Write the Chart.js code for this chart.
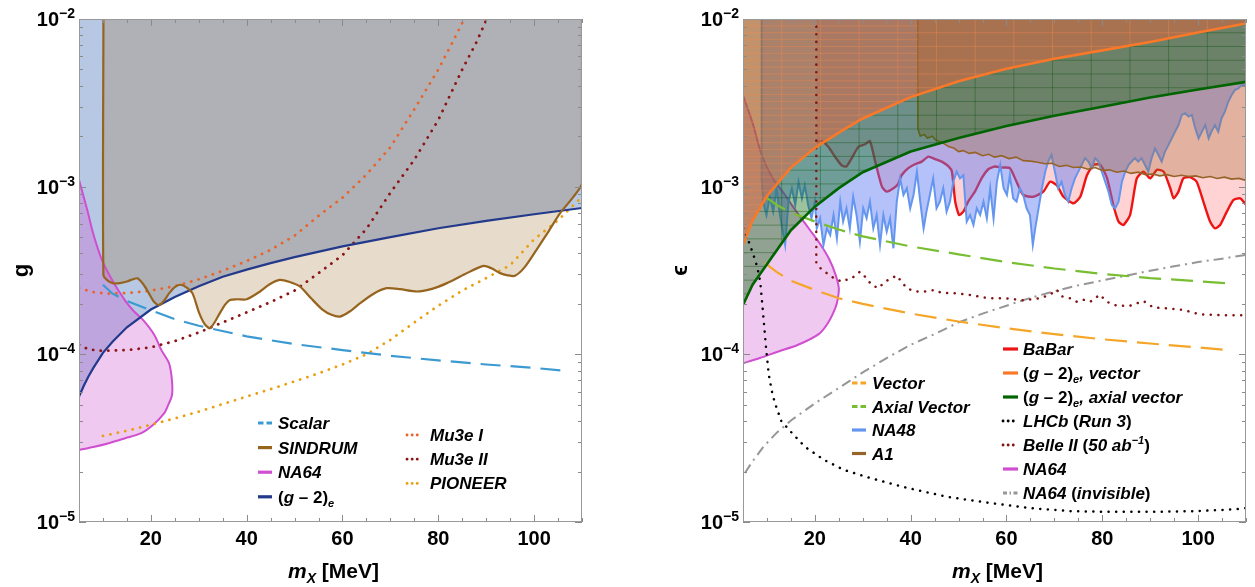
<!DOCTYPE html>
<html><head><meta charset="utf-8">
<script src="https://cdn.jsdelivr.net/npm/chart.js@4.4.1/dist/chart.umd.min.js"></script>
<style>
html,body{margin:0;padding:0;background:#fff;width:1255px;height:587px;overflow:hidden}
canvas{position:absolute;top:0}
#c1{left:0}
#c2{left:620px}
</style></head><body>
<canvas id="c1" width="620" height="587"></canvas>
<canvas id="c2" width="635" height="587"></canvas>
<script>
// ================= shared axis ticks =================
const xTickLabels = [20, 40, 60, 80, 100];
const yTickExps = [-5, -4, -3, -2];

// ================= LEFT PANEL : g vs m_X =================
const g2eMass = [5,6,7,8,10,12,15,20,25,30,35,40,45,50,60,70,80,90,100,110];
const g2eCoupling = [5.6e-5,6.5e-5,7.4e-5,8.3e-5,1.02e-4,1.19e-4,1.45e-4,1.85e-4,2.2e-4,2.55e-4,2.9e-4,3.2e-4,3.5e-4,3.8e-4,4.4e-4,5.0e-4,5.65e-4,6.25e-4,6.85e-4,7.46e-4];

const scalarMass = [10,12,15,20,25,30,40,50,60,70,80,90,100,106];
const scalarCoupling = [2.6e-4,2.3e-4,2.08e-4,1.83e-4,1.62e-4,1.48e-4,1.28e-4,1.15e-4,1.06e-4,9.8e-5,9.2e-5,8.7e-5,8.3e-5,8.0e-5];

const mu3eIMass = [5,8,11,15,20,25,30,35,40,45,50,55,60,65,70,75,80,83,85.1,85.4];
const mu3eICoupling = [2.48e-4,2.35e-4,2.3e-4,2.32e-4,2.4e-4,2.55e-4,2.8e-4,3.15e-4,3.6e-4,4.2e-4,5.1e-4,6.7e-4,8.6e-4,1.18e-3,1.72e-3,2.9e-3,5.0e-3,7.3e-3,9.6e-3,1.0e-2];

const mu3eIIMass = [5,7,10,15,20,25,30,35,40,45,50,55,60,65,70,75,80,85,88,90.1];
const mu3eIICoupling = [1.14e-4,1.07e-4,1.05e-4,1.06e-4,1.1e-4,1.2e-4,1.35e-4,1.55e-4,1.78e-4,2.05e-4,2.4e-4,3.05e-4,3.9e-4,5.6e-4,9.2e-4,1.45e-3,2.5e-3,5.0e-3,7.3e-3,1.0e-2];

const pioneerMass = [10,15,20,25,30,35,40,45,50,55,60,65,70,75,80,85,90,95,100,105,110];
const pioneerCoupling = [3.26e-5,3.5e-5,3.8e-5,4.15e-5,4.55e-5,5.05e-5,5.6e-5,6.2e-5,6.9e-5,7.7e-5,8.7e-5,1.0e-4,1.22e-4,1.55e-4,1.95e-4,2.4e-4,2.85e-4,3.4e-4,4.85e-4,6.3e-4,8.7e-4];

const sindrumCurve = [[10.1,1e-2],[10.1,2.97e-4],[11,2.75e-4],[12.2,2.65e-4],[13.5,2.66e-4],[15,2.72e-4],[16.2,2.8e-4],[17.2,2.84e-4],[18.5,2.6e-4],[19.6,2.31e-4],[20.7,2.05e-4],[21.7,1.97e-4],[22.7,2.08e-4],[23.8,2.31e-4],[25,2.52e-4],[26.2,2.6e-4],[27.5,2.5e-4],[28.7,2.31e-4],[30.1,1.76e-4],[31.2,1.52e-4],[32.3,1.43e-4],[33.3,1.55e-4],[34.4,1.76e-4],[35.5,1.98e-4],[36.5,2.11e-4],[38,2.13e-4],[40,2.13e-4],[42.8,2.37e-4],[44.8,2.62e-4],[46.9,2.78e-4],[49,2.7e-4],[51.1,2.54e-4],[53.5,2.15e-4],[55.9,1.84e-4],[57.7,1.72e-4],[59.5,1.68e-4],[61.5,1.8e-4],[63.7,2.02e-4],[66.5,2.3e-4],[69.2,2.48e-4],[72,2.45e-4],[75.5,2.37e-4],[78.5,2.45e-4],[81.7,2.65e-4],[85.5,3.0e-4],[89.4,3.37e-4],[91.2,3.25e-4],[92.9,3.05e-4],[94.5,2.96e-4],[96,2.94e-4],[98,3.3e-4],[100.5,4.2e-4],[103,5.4e-4],[105.4,6.93e-4],[108.2,8.7e-4],[110,1.05e-3],[110,1e-2]];

const na64LeftContour = [[5,1.1e-3],[6.7,7.3e-4],[8,5.2e-4],[9.8,3.65e-4],[12,2.75e-4],[14.6,2.1e-4],[16.5,1.8e-4],[18.4,1.6e-4],[20.7,1.31e-4],[22.2,1.06e-4],[23.8,8.85e-5],[24.4,7.0e-5],[24.4,5.7e-5],[23.5,4.9e-5],[22.8,4.46e-5],[20.5,3.8e-5],[18,3.39e-5],[14.5,3.15e-5],[11.2,2.95e-5],[8,2.8e-5],[5,2.69e-5]];

// ================= RIGHT PANEL : epsilon vs m_X =================
const gm2Mass = [5,7,10,15,20,25,30,40,50,60,70,80,90,100,110];
const gm2VectorEps = [4.5e-4,6.3e-4,8.8e-4,1.3e-3,1.7e-3,2.1e-3,2.55e-3,3.42e-3,4.25e-3,5.05e-3,5.8e-3,6.5e-3,7.3e-3,8.3e-3,9.4e-3];
const gm2AxialEps = [1.97e-4,2.6e-4,3.45e-4,5.5e-4,7.6e-4,9.8e-4,1.22e-3,1.62e-3,1.95e-3,2.3e-3,2.65e-3,3.0e-3,3.4e-3,3.8e-3,4.22e-3];

const vectorMass = [9.6,12,15,20,25,30,40,50,60,70,80,90,100,106.3];
const vectorEps = [3.5e-4,3.1e-4,2.75e-4,2.42e-4,2.16e-4,2.0e-4,1.75e-4,1.57e-4,1.43e-4,1.32e-4,1.23e-4,1.16e-4,1.1e-4,1.06e-4];
const axialMass = [9.9,12,15,20,25,30,40,50,60,70,80,90,100,106.3];
const axialEps = [8.6e-4,7.8e-4,7.0e-4,6.2e-4,5.55e-4,5.05e-4,4.4e-4,3.95e-4,3.55e-4,3.25e-4,3.02e-4,2.85e-4,2.73e-4,2.65e-4];

const na64InvMass = [5.4,7,9.3,12,15.2,20,25,30,35,40,45,50,55,60,65,70,75,80,85,90,95,100,105,110];
const na64InvEps = [1.96e-5,2.3e-5,2.82e-5,3.4e-5,4.07e-5,5.1e-5,6.3e-5,7.8e-5,9.5e-5,1.14e-4,1.32e-4,1.55e-4,1.75e-4,1.95e-4,2.17e-4,2.38e-4,2.58e-4,2.76e-4,2.95e-4,3.15e-4,3.35e-4,3.55e-4,3.72e-4,3.92e-4];

const lhcbCurve = [[5,5.65e-4],[6.2,4.7e-4],[7.2,3.9e-4],[8.0,3.3e-4],[8.6,2.7e-4],[9.2,1.75e-4],[9.8,1.1e-4],[10.4,7.5e-5],[11.2,5.7e-5],[12,4.8e-5],[13,4.0e-5],[15.2,3.4e-5],[18,2.8e-5],[22,2.34e-5],[26,2.05e-5],[30.7,1.86e-5],[35,1.72e-5],[39.2,1.6e-5],[47.8,1.41e-5],[56.4,1.3e-5],[64.9,1.21e-5],[73.5,1.16e-5],[82,1.15e-5],[90.6,1.15e-5],[99.2,1.16e-5],[107.7,1.19e-5],[110,1.21e-5]];

const belleCurve = [[20.3,1e-2],[20.3,3.49e-4],[21.2,3.26e-4],[22.1,3.11e-4],[23.5,2.9e-4],[25.6,2.71e-4],[26.3,2.77e-4],[27.7,2.84e-4],[29.4,3.11e-4],[30.5,2.9e-4],[31.9,2.59e-4],[33.3,2.48e-4],[34.6,2.71e-4],[36,2.84e-4],[37.1,2.95e-4],[38.1,2.71e-4],[39.2,2.48e-4],[40.9,2.37e-4],[43,2.37e-4],[45.1,2.42e-4],[46.5,2.32e-4],[48.6,2.32e-4],[52,2.27e-4],[56.2,2.16e-4],[59.7,2.16e-4],[63.5,2.1e-4],[67,2.16e-4],[69.1,2.27e-4],[70.5,2.43e-4],[71.5,2.22e-4],[73.3,2.16e-4],[74.7,2.06e-4],[76,2.12e-4],[77.5,2.06e-4],[79.5,2.27e-4],[80.9,2.06e-4],[83,1.95e-4],[85.8,1.95e-4],[88.6,2.08e-4],[90.7,1.9e-4],[93.5,1.88e-4],[96.9,1.84e-4],[100.4,1.73e-4],[105.3,1.71e-4],[110,1.71e-4]];

const babarCurve = [[20.4,1.83e-3],[21.4,1.87e-3],[22.8,1.73e-3],[24.2,1.51e-3],[25.6,1.34e-3],[26.6,1.32e-3],[27.7,1.48e-3],[29.1,1.73e-3],[30.5,1.79e-3],[31.5,1.87e-3],[32.6,1.41e-3],[34.0,1.0e-3],[35.0,9.34e-4],[36.4,9.78e-4],[37.4,1.04e-3],[38.1,1.17e-3],[39.5,1.29e-3],[40.9,1.36e-3],[42.3,1.41e-3],[43.7,1.51e-3],[45.1,1.46e-3],[46.5,1.41e-3],[47.9,1.32e-3],[48.6,1.23e-3],[49.3,8.14e-4],[50.1,6.78e-4],[51.0,7.1e-4],[52.0,8.14e-4],[53.4,9.34e-4],[54.8,1.12e-3],[56.2,1.27e-3],[57.6,1.32e-3],[59.0,1.3e-3],[60.7,1.29e-3],[62.1,1.07e-3],[63.5,8.92e-4],[65.6,8.7e-4],[67.7,9.34e-4],[69.1,1.07e-3],[70.5,1.02e-3],[71.9,8.7e-4],[74.0,7.96e-4],[75.4,8.7e-4],[76.8,1.17e-3],[78.2,1.35e-3],[79.6,1.35e-3],[81.0,1.12e-3],[82.3,7.78e-4],[83.4,6.19e-4],[84.4,5.91e-4],[85.8,6.78e-4],[87.2,1.12e-3],[88.6,1.23e-3],[90.0,1.12e-3],[91.4,1.26e-3],[92.8,1.23e-3],[94.2,9.78e-4],[94.9,8.52e-4],[95.9,9.34e-4],[96.9,1.12e-3],[98.3,1.14e-3],[99.7,1.07e-3],[101.1,8.14e-4],[102.5,6.19e-4],[103.5,5.64e-4],[104.6,5.91e-4],[106.0,7.1e-4],[107.4,8.33e-4],[108.8,8.52e-4],[110,7.8e-4]];

const na48Curve = [[8.9,1e-2],[8.9,1.12e-3],[9.2,8.14e-4],[9.9,6.78e-4],[10.6,8.72e-4],[11.3,7.1e-4],[12.0,9.78e-4],[12.7,6.78e-4],[13.8,4.49e-4],[14.5,8.14e-4],[15.2,9.78e-4],[15.9,7.78e-4],[16.6,1.07e-3],[17.3,8.52e-4],[17.9,1.02e-3],[18.6,7.78e-4],[19.3,6.48e-4],[20.0,8.14e-4],[20.4,5.64e-4],[21.1,6.48e-4],[21.8,4.49e-4],[22.5,5.64e-4],[23.2,5.15e-4],[23.9,6.78e-4],[24.6,4.92e-4],[25.3,8.14e-4],[25.9,6.19e-4],[26.6,7.43e-4],[27.3,5.64e-4],[28.0,8.72e-4],[28.7,6.78e-4],[29.4,4.7e-4],[30.1,7.43e-4],[30.8,6.48e-4],[31.5,8.14e-4],[32.2,5.64e-4],[32.9,6.78e-4],[33.6,4.49e-4],[34.3,6.78e-4],[35.0,5.39e-4],[35.7,6.48e-4],[36.4,4.29e-4],[37.1,8.14e-4],[37.8,1.12e-3],[38.5,8.92e-4],[39.2,9.78e-4],[39.9,7.43e-4],[40.6,8.92e-4],[41.3,1.23e-3],[42.0,8.14e-4],[42.7,5.64e-4],[43.3,7.1e-4],[44.0,8.92e-4],[44.7,1.12e-3],[45.4,7.43e-4],[46.1,8.14e-4],[46.8,9.78e-4],[47.5,7.1e-4],[48.2,8.14e-4],[48.9,1.07e-3],[49.6,1.23e-3],[50.3,1.12e-3],[51.0,1.17e-3],[51.7,6.19e-4],[52.4,6.78e-4],[53.1,5.91e-4],[53.8,7.43e-4],[54.5,6.78e-4],[55.2,8.14e-4],[55.9,6.48e-4],[56.6,9.78e-4],[57.3,6.48e-4],[58.0,1.07e-3],[58.7,1.35e-3],[59.4,9.78e-4],[60.1,8.92e-4],[60.7,1.17e-3],[61.4,8.52e-4],[62.1,8.14e-4],[62.8,9.78e-4],[63.5,8.92e-4],[64.2,7.43e-4],[64.9,6.78e-4],[65.5,4.49e-4],[66.0,5.64e-4],[66.7,7.43e-4],[67.4,9.78e-4],[68.1,1.23e-3],[68.7,1.41e-3],[69.4,1.55e-3],[70.1,1.23e-3],[70.8,9.78e-4],[71.5,1.07e-3],[72.2,8.92e-4],[72.9,8.14e-4],[73.6,9.78e-4],[74.3,1.12e-3],[75.0,1.23e-3],[75.7,1.35e-3],[76.4,1.48e-3],[77.1,1.41e-3],[77.8,1.29e-3],[78.5,1.48e-3],[79.2,1.41e-3],[79.9,1.23e-3],[80.6,1.07e-3],[81.3,9.34e-4],[82.0,7.78e-4],[82.7,7.43e-4],[83.4,8.14e-4],[84.1,1.07e-3],[84.8,1.23e-3],[85.5,1.35e-3],[86.1,1.41e-3],[86.8,1.48e-3],[87.5,1.41e-3],[88.2,1.48e-3],[88.9,1.35e-3],[89.6,1.23e-3],[90.3,1.48e-3],[91.0,1.69e-3],[91.7,1.55e-3],[92.4,1.41e-3],[93.1,1.62e-3],[93.8,1.77e-3],[94.5,1.94e-3],[95.2,2.13e-3],[95.9,2.33e-3],[96.6,2.68e-3],[97.3,2.74e-3],[98.0,2.62e-3],[98.7,2.68e-3],[99.4,2.23e-3],[100.1,1.94e-3],[100.8,2.13e-3],[101.5,2.33e-3],[102.2,1.94e-3],[102.8,2.13e-3],[103.5,2.33e-3],[104.2,2.13e-3],[104.9,2.56e-3],[105.6,2.8e-3],[106.3,3.21e-3],[107.0,3.52e-3],[107.7,3.78e-3],[108.4,3.86e-3],[109.1,4.04e-3],[109.8,4.04e-3],[110,3.95e-3]];

const a1Curve = [[41.5,1e-2],[41.5,2.23e-3],[42.0,2.0e-3],[42.8,2.05e-3],[43.5,1.95e-3],[44.5,2.0e-3],[45.2,1.9e-3],[46.0,1.86e-3],[47.0,1.8e-3],[48.0,1.73e-3],[49.0,1.7e-3],[50.0,1.62e-3],[51.0,1.64e-3],[52.2,1.58e-3],[53.5,1.6e-3],[55.0,1.53e-3],[56.3,1.56e-3],[57.5,1.5e-3],[59.0,1.53e-3],[60.5,1.47e-3],[62.0,1.5e-3],[63.5,1.43e-3],[65.0,1.42e-3],[66.5,1.4e-3],[68.0,1.37e-3],[69.5,1.38e-3],[71.0,1.32e-3],[72.5,1.34e-3],[74.0,1.3e-3],[75.5,1.31e-3],[77.0,1.27e-3],[78.5,1.3e-3],[80.0,1.25e-3],[81.5,1.26e-3],[83.0,1.22e-3],[84.5,1.24e-3],[86.0,1.2e-3],[87.5,1.22e-3],[89.0,1.18e-3],[90.5,1.19e-3],[92.0,1.16e-3],[93.5,1.18e-3],[95.0,1.15e-3],[96.5,1.17e-3],[98.0,1.15e-3],[99.5,1.16e-3],[101.0,1.13e-3],[102.5,1.15e-3],[104.0,1.12e-3],[105.5,1.14e-3],[107.0,1.11e-3],[108.5,1.12e-3],[110.0,1.09e-3]];

const na64RightContour = [[5,3.5e-3],[7,2.4e-3],[8.9,1.55e-3],[11,1.15e-3],[13.8,8.9e-4],[16,7.2e-4],[18.7,5.65e-4],[21,4.6e-4],[22.9,3.74e-4],[24.3,3.0e-4],[25,2.48e-4],[24.8,2.15e-4],[24.3,1.9e-4],[22.8,1.55e-4],[20.8,1.32e-4],[16.5,1.14e-4],[12.4,1.04e-4],[8.5,9.5e-5],[5,8.85e-5]];

// ================= helpers =================
const FONT = '"Liberation Sans", Arial, Helvetica, sans-serif';
const xy = (xs, ys) => xs.map((x, i) => ({x, y: ys[i]}));
const pp = arr => arr.map(([x, y]) => ({x, y}));
const DOT = {borderDash: [0.1, 7.5], borderCapStyle: 'round', borderWidth: 2.8};
function ds(data, o) {
  return Object.assign({data, pointRadius: 0, pointHoverRadius: 0, borderWidth: 2, fill: false,
    tension: 0, borderColor: 'rgba(0,0,0,0)', backgroundColor: 'rgba(0,0,0,0)'}, o);
}
function layered(list) { list.forEach((d, i) => d.order = list.length - i); return list; }
function fnt(s, base) { return (s.it ? 'italic ' : '') + 'bold ' + (s.sz || base) + 'px ' + FONT; }
function rich(ctx, x, y, segs, base, align) {
  let w = 0;
  segs.forEach(s => { ctx.font = fnt(s, base); s._w = ctx.measureText(s.t).width; w += s._w; });
  let cx = align === 'right' ? x - w : align === 'center' ? x - w / 2 : x;
  segs.forEach(s => { ctx.font = fnt(s, base); ctx.fillText(s.t, cx, y + (s.dy || 0)); cx += s._w; });
}
function sample(ctx, x0, x1, y, st) {
  ctx.save();
  ctx.strokeStyle = st.c; ctx.lineWidth = st.w || 3.2;
  if (st.t === 'dash') { ctx.setLineDash([5.5, 3]); }
  else if (st.t === 'dot') { ctx.setLineDash([0.1, 5]); ctx.lineCap = 'round'; ctx.lineWidth = 2.8; }
  else if (st.t === 'dashdot') { ctx.setLineDash([4, 2.5, 1.5, 2.5]); }
  ctx.beginPath(); ctx.moveTo(x0, y); ctx.lineTo(x1, y); ctx.stroke();
  ctx.restore();
}

// region mesh (Mathematica-style) drawn inside the (g-2) exclusion regions of the right panel
const meshPlugin = {
  id: 'mesh',
  afterDatasetDraw(chart, args) {
    const dsets = chart.data.datasets;
    if (!dsets[args.index].meshAfter) return;
    const {ctx, chartArea: a, scales: {x}} = chart;
    const gMeta = chart.getDatasetMeta(dsets.findIndex(s => s.meshGreen));
    const oMeta = chart.getDatasetMeta(dsets.findIndex(s => s.meshOrange));
    const a1Meta = chart.getDatasetMeta(dsets.findIndex(s => s.meshA1));
    const addPoly = meta => {
      const pts = meta.data;
      ctx.moveTo(pts[0].x, a.top - 2);
      pts.forEach(p => ctx.lineTo(p.x, p.y));
      ctx.lineTo(pts[pts.length - 1].x, a.top - 2);
      ctx.closePath();
    };
    const vx = [];
    for (let k = 1; k < 13; k++) vx.push(x.getPixelForValue(5 + k * 105 / 13));
    const step = (a.bottom - a.top) / 36.6;
    ctx.save();
    ctx.beginPath(); addPoly(gMeta); addPoly(oMeta); ctx.clip('evenodd');
    ctx.strokeStyle = 'rgba(20,85,20,0.42)'; ctx.lineWidth = 1;
    ctx.beginPath();
    vx.forEach(px => { ctx.moveTo(px, a.top); ctx.lineTo(px, a.bottom); });
    for (let py = a.top + step; py < a.bottom; py += step) { ctx.moveTo(a.left, py); ctx.lineTo(a.right, py); }
    ctx.stroke();
    ctx.restore();
    const xA1 = a1Meta.data[0].x;
    ctx.save();
    ctx.beginPath(); addPoly(oMeta); ctx.clip();
    ctx.strokeStyle = 'rgba(240,135,75,0.42)'; ctx.lineWidth = 1;
    ctx.beginPath();
    vx.forEach(px => { ctx.moveTo(px, a.top); ctx.lineTo(px, a.bottom); });
    let i = 1;
    for (let py = a.top + step / 2; py < a.bottom; py += step / 2, i++) {
      ctx.moveTo(a.left, py); ctx.lineTo(i % 2 === 0 ? a.right : xA1, py);
    }
    ctx.stroke();
    ctx.restore();
  }
};

function decor(cfg) {
  return {
    id: 'decor',
    afterDatasetsDraw(chart) {
      const {ctx, chartArea: a, scales: {x, y}} = chart;
      ctx.save();
      ctx.strokeStyle = '#8a8a8a'; ctx.lineWidth = 1;
      ctx.beginPath();
      for (let v = 5; v <= 110; v += 5) {
        const px = Math.round(x.getPixelForValue(v)) + 0.5;
        const L = (v % 20 === 0) ? 7 : 4;
        ctx.moveTo(px, a.bottom); ctx.lineTo(px, a.bottom - L);
        ctx.moveTo(px, a.top); ctx.lineTo(px, a.top + L);
      }
      for (let e = -5; e <= -2; e++) {
        for (let m = 1; m <= 9; m++) {
          if (e === -2 && m > 1) break;
          const py = Math.round(y.getPixelForValue(m * Math.pow(10, e))) + 0.5;
          const L = m === 1 ? 7 : 4;
          ctx.moveTo(a.left, py); ctx.lineTo(a.left + L, py);
          ctx.moveTo(a.right, py); ctx.lineTo(a.right - L, py);
        }
      }
      ctx.stroke();
      ctx.strokeStyle = '#999';
      ctx.strokeRect(a.left + 0.5, a.top + 0.5, a.right - a.left - 1, a.bottom - a.top - 1);
      ctx.restore();
    },
    afterDraw(chart) {
      const {ctx, chartArea: a, scales: {x, y}} = chart;
      ctx.save();
      ctx.fillStyle = '#000';
      ctx.textAlign = 'center'; ctx.textBaseline = 'alphabetic';
      ctx.font = 'bold 20px ' + FONT;
      xTickLabels.forEach(v => ctx.fillText(String(v), x.getPixelForValue(v), 545));
      ctx.textAlign = 'left';
      yTickExps.forEach(e => {
        const py = y.getPixelForValue(Math.pow(10, e));
        rich(ctx, a.left - 4, py + 7, [{t: '10'}, {t: '\u2212' + (-e), sz: 14, dy: -8}], 20, 'right');
      });
      ctx.save();
      ctx.translate(cfg.yTitleX, (a.top + a.bottom) / 2);
      ctx.rotate(-Math.PI / 2);
      ctx.textAlign = 'center'; ctx.textBaseline = 'middle';
      ctx.font = 'bold 22px ' + FONT;
      ctx.fillText(cfg.yTitle, 0, 0);
      ctx.restore();
      ctx.textAlign = 'left';
      rich(ctx, (a.left + a.right) / 2 + 3, 578,
        [{t: 'm', it: 1}, {t: 'X', it: 1, sz: 14, dy: 5}, {t: ' [MeV]'}], 21, 'center');
      cfg.legend.forEach(col => {
        col.items.forEach((it, i) => {
          const yy = col.y0 + i * col.dy;
          sample(ctx, col.sx0, col.sx1, yy, it.st);
          ctx.fillStyle = '#000';
          rich(ctx, col.tx, yy + 6, it.segs.map(s => Object.assign({}, s)), 17, 'left');
        });
      });
      ctx.restore();
    }
  };
}

function makeChart(id, padding, datasets, cfg, extra) {
  return new Chart(document.getElementById(id), {
    type: 'line',
    data: {datasets},
    options: {
      responsive: false, animation: false, events: [],
      layout: {padding},
      scales: {
        x: {type: 'linear', min: 5, max: 110, display: false},
        y: {type: 'logarithmic', min: 1e-5, max: 1e-2, display: false}
      },
      plugins: {legend: {display: false}, tooltip: {enabled: false}, title: {display: false}}
    },
    plugins: [decor(cfg)].concat(extra || [])
  });
}

// ---------------- left chart ----------------
const leftSets = layered([
  ds(xy(g2eMass, g2eCoupling), {fill: 'end', backgroundColor: 'rgba(110,145,200,0.5)', borderWidth: 0}),
  ds(pp(sindrumCurve), {fill: 'end', backgroundColor: 'rgba(160,110,50,0.25)', borderWidth: 0, tension: 0.25}),
  ds(pp(na64LeftContour), {fill: 'shape', backgroundColor: 'rgba(210,100,210,0.35)', borderWidth: 0, tension: 0.3}),
  ds(pp(na64LeftContour), {borderColor: '#d04ed0', borderWidth: 2, tension: 0.3}),
  ds(xy(pioneerMass, pioneerCoupling), Object.assign({borderColor: '#e8a010'}, DOT)),
  ds(xy(mu3eIMass, mu3eICoupling), Object.assign({borderColor: '#e8642a'}, DOT)),
  ds(xy(mu3eIIMass, mu3eIICoupling), Object.assign({borderColor: '#8c1414'}, DOT)),
  ds(xy(scalarMass, scalarCoupling), {borderColor: '#3c9ad2', borderWidth: 2.2, borderDash: [20, 10]}),
  ds(xy(g2eMass, g2eCoupling), {borderColor: '#233a8c', borderWidth: 2.2}),
  ds(pp(sindrumCurve), {borderColor: '#96641e', borderWidth: 2.2, tension: 0.25})
]);
const g2Segs = [{t: '('}, {t: 'g', it: 1}, {t: ' \u2013 2)'}, {t: 'e', it: 1, sz: 11, dy: 4}];
makeChart('c1', {left: 79, top: 19, right: 38, bottom: 65}, leftSets, {
  yTitle: 'g', yTitleX: 22,
  legend: [
    {sx0: 258, sx1: 272, tx: 278, y0: 423, dy: 24.6, items: [
      {st: {t: 'dash', c: '#3c9ad2'}, segs: [{t: 'Scalar', it: 1}]},
      {st: {t: 'solid', c: '#96641e'}, segs: [{t: 'SINDRUM', it: 1}]},
      {st: {t: 'solid', c: '#d04ed0'}, segs: [{t: 'NA64', it: 1}]},
      {st: {t: 'solid', c: '#233a8c'}, segs: g2Segs}
    ]},
    {sx0: 407, sx1: 420, tx: 430, y0: 435, dy: 24.2, items: [
      {st: {t: 'dot', c: '#e8642a'}, segs: [{t: 'Mu3e I', it: 1}]},
      {st: {t: 'dot', c: '#8c1414'}, segs: [{t: 'Mu3e II', it: 1}]},
      {st: {t: 'dot', c: '#e8a010'}, segs: [{t: 'PIONEER', it: 1}]}
    ]}
  ]
});

// ---------------- right chart ----------------
const rightSets = layered([
  ds(pp(na64RightContour), {fill: 'shape', backgroundColor: 'rgba(210,100,210,0.35)', borderColor: '#d04ed0', borderWidth: 2, tension: 0.3}),
  ds(pp(babarCurve), {fill: 'end', backgroundColor: 'rgba(255,120,120,0.33)', borderColor: '#ee1414', borderWidth: 2.4, tension: 0.2}),
  ds(pp(na48Curve), {fill: 'end', backgroundColor: 'rgba(90,120,245,0.45)', borderColor: '#6496f0', borderWidth: 2}),
  ds(pp(a1Curve), {fill: 'end', backgroundColor: 'rgba(160,100,40,0.3)', borderColor: '#966428', borderWidth: 1.6, meshA1: true}),
  ds(xy(gm2Mass, gm2AxialEps), {fill: 'end', backgroundColor: 'rgba(0,100,0,0.39)', borderWidth: 0, meshGreen: true}),
  ds(xy(gm2Mass, gm2VectorEps), {fill: 'end', backgroundColor: 'rgba(230,100,60,0.5)', borderWidth: 0, meshOrange: true, meshAfter: true}),
  ds(xy(na64InvMass, na64InvEps), {borderColor: '#969696', borderWidth: 2, borderDash: [10, 5, 2, 5]}),
  ds(pp(lhcbCurve), Object.assign({borderColor: '#000000'}, DOT, {borderWidth: 2.5})),
  ds(pp(belleCurve), Object.assign({borderColor: '#821414'}, DOT, {borderWidth: 2.5})),
  ds(xy(vectorMass, vectorEps), {borderColor: '#f5a528', borderWidth: 2.2, borderDash: [22, 10]}),
  ds(xy(axialMass, axialEps), {borderColor: '#78be32', borderWidth: 2.2, borderDash: [22, 10]}),
  ds(xy(gm2Mass, gm2AxialEps), {borderColor: '#006400', borderWidth: 2.6}),
  ds(xy(gm2Mass, gm2VectorEps), {borderColor: '#fa7828', borderWidth: 2.6})
]);
makeChart('c2', {left: 123, top: 19, right: 9, bottom: 65}, rightSets, {
  yTitle: '\u03F5', yTitleX: 61,
  legend: [
    {sx0: 232, sx1: 246, tx: 252, y0: 383, dy: 23.5, items: [
      {st: {t: 'dash', c: '#f5a528'}, segs: [{t: 'Vector', it: 1}]},
      {st: {t: 'dash', c: '#78be32'}, segs: [{t: 'Axial Vector', it: 1}]},
      {st: {t: 'solid', c: '#6496f0'}, segs: [{t: 'NA48', it: 1}]},
      {st: {t: 'solid', c: '#966428'}, segs: [{t: 'A1', it: 1}]}
    ]},
    {sx0: 383, sx1: 398, tx: 403, y0: 349, dy: 24.0, items: [
      {st: {t: 'solid', c: '#ee1414'}, segs: [{t: 'BaBar', it: 1}]},
      {st: {t: 'solid', c: '#fa7828'}, segs: g2Segs.concat([{t: ', vector', it: 1}])},
      {st: {t: 'solid', c: '#006400'}, segs: g2Segs.concat([{t: ', axial vector', it: 1}])},
      {st: {t: 'dot', c: '#000000'}, segs: [{t: 'LHCb ', it: 1}, {t: '('}, {t: 'Run 3', it: 1}, {t: ')'}]},
      {st: {t: 'dot', c: '#821414'}, segs: [{t: 'Belle II ', it: 1}, {t: '('}, {t: '50 ab', it: 1}, {t: '\u22121', it: 1, sz: 11, dy: -7}, {t: ')'}]},
      {st: {t: 'solid', c: '#d04ed0'}, segs: [{t: 'NA64', it: 1}]},
      {st: {t: 'dashdot', c: '#969696'}, segs: [{t: 'NA64 ', it: 1}, {t: '('}, {t: 'invisible', it: 1}, {t: ')'}]}
    ]}
  ]
}, [meshPlugin]);
</script></body></html>
